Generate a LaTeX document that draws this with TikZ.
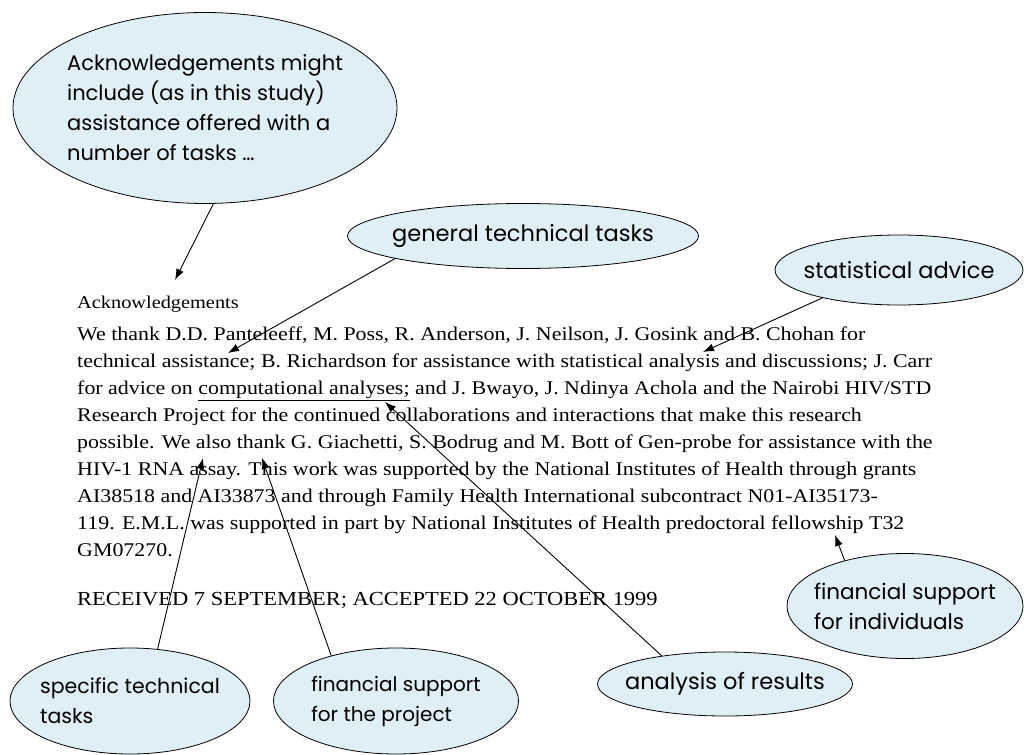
\documentclass[tikz,border=0pt]{standalone}
\usepackage{fontspec}
\setmainfont{Liberation Serif}
\newfontfamily\scanfont[FakeStretch=1.13]{Liberation Serif}
\newfontfamily\notefont{Poppins}
\usetikzlibrary{arrows.meta, positioning, shapes.geometric}
\definecolor{notefill}{RGB}{224,238,245}

\begin{document}
\begin{tikzpicture}[x=1pt, y=-1pt,
        note/.style={ellipse, draw, line width=0.8pt, fill=notefill, inner xsep=-12pt, inner ysep=0pt, align=left, font=\notefont\fontsize{21}{30}\selectfont},
        pointer/.style={draw, -{Latex[length=11pt, width=8pt]}, line width=0.9pt},
        body/.style={inner sep=0pt, anchor=north west, align=left, font=\scanfont\fontsize{19.4}{27}\selectfont}
        ]
        \useasboundingbox (0,0) rectangle (1024,754);

        % Text of the acknowledgements
        \node (acktitle) [inner sep=0pt, anchor=base west, font=\scanfont\fontsize{18}{20}\selectfont] at (77,308) {Acknowledgements};
        \node (thanks) [body] at (77,327) {We thank D.D. Panteleeff, M. Poss, R. Anderson, J. Neilson, J. Gosink and B. Chohan for\\
            technical assistance; B. Richardson for assistance with statistical analysis and discussions; J. Carr\\
            for advice on \underline{computational analyses;} and J. Bwayo, J. Ndinya Achola and the Nairobi HIV/STD\\
            Research Project for the continued collaborations and interactions that make this research\\
            possible. We also thank G. Giachetti, S. Bodrug and M. Bott of Gen-probe for assistance with the\\
            HIV-1 RNA assay. This work was supported by the National Institutes of Health through grants\\
            AI38518 and AI33873 and through Family Health International subcontract N01-AI35173-\\
            119. E.M.L. was supported in part by National Institutes of Health predoctoral fellowship T32\\
            GM07270.};
        \node (received) [inner sep=0pt, anchor=base west, font=\scanfont\fontsize{19.9}{20}\selectfont] at (77,605) {RECEIVED 7 SEPTEMBER; ACCEPTED 22 OCTOBER 1999};

        % Notes
        \node (intro) [note, minimum width=384pt, minimum height=191pt] at (205,108) {Acknowledgements might\\include (as in this study)\\assistance offered with a\\number of tasks \dots};
        \node (general) [note, minimum width=351pt, minimum height=65pt, font=\notefont\fontsize{22.5}{30}\selectfont] at (523,236) {general technical tasks};
        \node (stats) [note, minimum width=248pt, minimum height=70pt, font=\notefont\fontsize{22.5}{30}\selectfont] at (899,270) {statistical advice};
        \node (indiv) [note, minimum width=236pt, minimum height=105pt, font=\notefont\fontsize{21.5}{30}\selectfont] at (905,606) {financial support\\for individuals};
        \node (results) [note, minimum width=255pt, minimum height=64pt, font=\notefont\fontsize{22.5}{30}\selectfont] at (725,684) {analysis of results};
        \node (specific) [note, minimum width=240pt, minimum height=106pt, font=\notefont\fontsize{20.5}{30}\selectfont] at (130,701) {specific technical\\tasks};
        \node (project) [note, minimum width=245pt, minimum height=106pt, font=\notefont\fontsize{20}{30}\selectfont] at (396,701) {financial support\\for the project};

        % Arrow targets in the text
        \coordinate (introtip) at (175,280);
        \coordinate (generaltip) at (228,353);
        \coordinate (statstip) at (703,352);
        \coordinate (resultstip) at (385,402);
        \coordinate (specifictip) at (203,458);
        \coordinate (projecttip) at (262,458);
        \coordinate (indivtip) at (835,535);

        % Arrows
        \draw [pointer] (intro.275) -- (introtip);
        \draw [pointer] (general.190) -- (generaltip);
        \draw [pointer] (stats.200) -- (statstip);
        \draw [pointer] (results.156) -- (resultstip);
        \draw [pointer] (specific.62) -- (specifictip);
        \draw [pointer] (project.145) -- (projecttip);
        \draw [pointer] (indiv.143) -- (indivtip);

    \end{tikzpicture}
\end{document}
